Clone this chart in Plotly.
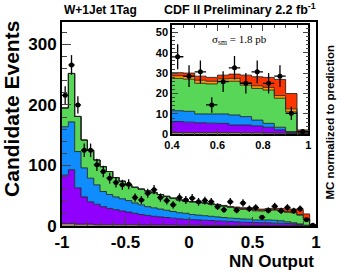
import numpy as np
import plotly.graph_objects as go

# ---- binning (NN output, 40 bins of 0.05) ----
bin_lo, bin_hi, bin_w = -1.0, 1.0, 0.05
edges = np.round(np.arange(bin_lo, bin_hi + 1e-9, bin_w), 3)
centers = np.round((edges[:-1] + edges[1:]) / 2, 4)

# ---- stacked MC levels (top of each layer) ----
lvl_other = [4, 4, 3, 3, 3, 2, 2, 2, 2, 2, 2, 2, 1.5, 1.5, 1.5, 1.5, 1.5, 1.5, 1.2, 1.2,
             1.2, 1.2, 1, 1, 1, 1, 1, 1, 0.9, 0.9, 0.9, 0.9, 0.9, 0.9, 0.8, 0.8, 0.7, 0.6, 0.4, 0.2]
lvl_purple = [84, 93, 63, 48, 40, 36, 32, 29, 27, 25, 23, 21, 19, 17.5, 16, 15, 14, 13, 12, 11,
              10.5, 10, 9.5, 9, 8.5, 8, 7.5, 7, 6.3, 6.0, 5.7, 5.5, 5.4, 4.6, 4.6, 4.2, 3.5, 2.2, 0.9, 0.3]
lvl_blue = [164, 172, 123, 96, 79, 68, 57, 52, 48, 45, 42, 38, 35, 32, 30, 28, 26, 24, 22, 21,
            19, 18, 17, 16, 15, 14, 13, 12.5, 11.6, 11.3, 10, 10, 10, 9.5, 8.7, 7, 5.4, 3.5, 1.4, 0.5]
lvl_green = [195, 252, 181, 142, 125, 109, 98, 90, 80, 74, 68, 64, 61, 58, 55, 52, 49, 46, 43, 41,
             40, 39, 38, 36, 35, 33, 31, 29.5, 27.4, 27, 25, 24.7, 26, 26, 24.1, 22.5, 21.7, 17.7, 11, 0.8]
lvl_orange = [195, 252, 181, 142, 125, 109, 98, 90, 80, 74, 68, 64, 61, 58, 55, 52, 49, 46, 43, 41,
              40, 39, 38, 36.3, 35.3, 33.3, 31.3, 29.8, 28.7, 28.3, 26.5, 26, 27.2, 27.4, 25.3, 23.8, 23, 19, 12.5, 1.0]
lvl_red = [195, 252, 181, 142, 125, 109, 98, 90, 80, 74, 68, 64, 61, 58, 55, 52, 49, 46, 43, 41,
           40, 39, 38, 36.6, 35.8, 34, 32.3, 31.3, 30.2, 30, 28.5, 27.9, 29, 29.5, 29, 28.2, 27.9, 26.9, 20, 2.2]

# ---- observed data ----
data = [216, 266, 200, 125, 125, 101, 90, 79, 72, 68, 69, 47, 43, 54, 60, 47, 42, 35, 47, 43,
        46, 40, 42, 40, 32, 27, 40, 26, 38, 28.5, 30.6, 14.4, 25.8, 32.6, 25, 30.6, 25, 28.5, 10.3, 1.4]

# ---- tick labels ----
main_xticks = [-1, -0.5, 0, 0.5, 1]
main_xlabels = ["-1", "-0.5", "0", "0.5", "1"]
main_yticks = [0, 100, 200, 300]
inset_xticks = [0.4, 0.6, 0.8, 1.0]
inset_xlabels = ["0.4", "0.6", "0.8", "1"]
inset_yticks = [0, 10, 20, 30, 40, 50]

layers = [
    (lvl_other, "#9d8b70"),
    (lvl_purple, "#9000ff"),
    (lvl_blue, "#0f8cff"),
    (lvl_green, "#58d658"),
    (lvl_orange, "#ff9a00"),
    (lvl_red, "#ff3500"),
]

fig = go.Figure()


def add_panel(xa, ya, lo):
    sel = np.where(edges[:-1] >= lo - 1e-9)[0]
    xs = list(edges[sel]) + [edges[sel[-1] + 1]]
    for i, (lvl, col) in enumerate(layers):
        v = [lvl[k] for k in sel]
        fig.add_trace(go.Scatter(
            x=xs, y=v + [v[-1]], mode="lines", line_shape="hv",
            line=dict(color="rgba(30,30,30,0.85)", width=1),
            fill="tozeroy" if i == 0 else "tonexty", fillcolor=col,
            xaxis=xa, yaxis=ya, showlegend=False, hoverinfo="skip"))
    d = [data[k] for k in sel]
    fig.add_trace(go.Scatter(
        x=[centers[k] for k in sel], y=d, mode="markers",
        marker=dict(color="black", size=5),
        error_y=dict(type="data", array=list(np.sqrt(d)), width=0, thickness=1.3, color="black"),
        error_x=dict(type="data", array=[bin_w / 2] * len(d), width=0, thickness=1.3, color="black"),
        xaxis=xa, yaxis=ya, showlegend=False))


add_panel("x", "y", bin_lo)
add_panel("x2", "y2", 0.4)

FONT = "Liberation Sans"

fig.update_layout(
    width=344, height=273, autosize=False,
    margin=dict(l=62, r=28, t=22, b=47),
    paper_bgcolor="white", plot_bgcolor="white",
    xaxis=dict(domain=[0, 1], range=[-1, 1], tickvals=main_xticks, ticktext=main_xlabels,
               ticks="inside", ticklen=9, tickwidth=1, showline=True, linewidth=2, linecolor="black",
               mirror=True, showgrid=False, zeroline=False, automargin=False,
               minor=dict(dtick=0.1, tick0=-1, ticks="inside", ticklen=5),
               tickfont=dict(family=FONT, size=17, weight="bold", color="black")),
    yaxis=dict(domain=[0, 1], range=[0, 337], tickvals=main_yticks,
               ticks="inside", ticklen=9, showline=True, linewidth=2, linecolor="black",
               mirror=True, showgrid=False, zeroline=False, automargin=False,
               minor=dict(dtick=20, tick0=0, ticks="inside", ticklen=5),
               tickfont=dict(family=FONT, size=17, weight="bold", color="black")),
    xaxis2=dict(domain=[0.433, 0.970], anchor="y2", range=[0.4, 1.0], tickvals=inset_xticks,
                ticktext=inset_xlabels, ticks="inside", ticklen=6, showline=True, linewidth=1.5,
                linecolor="black", mirror="ticks", showgrid=False, zeroline=False, automargin=False,
                minor=dict(dtick=0.05, tick0=0.4, ticks="inside", ticklen=3),
                tickfont=dict(family=FONT, size=11, weight="bold", color="black")),
    yaxis2=dict(domain=[0.449, 0.985], anchor="x2", range=[0, 53.5], tickvals=inset_yticks,
                ticks="inside", ticklen=6, showline=True, linewidth=1.5, linecolor="black",
                mirror="ticks", showgrid=False, zeroline=False, automargin=False,
                minor=dict(dtick=2, tick0=0, ticks="inside", ticklen=3),
                tickfont=dict(family=FONT, size=11, weight="bold", color="black")),
)

ann = [
    dict(text="W+1Jet 1Tag", x=0, y=1.059, xanchor="left", yanchor="middle",
         font=dict(family=FONT, size=12, weight="bold")),
    dict(text="CDF II Preliminary 2.2 fb<sup>-1</sup>", x=1.008, y=1.065, xanchor="right",
         yanchor="middle", font=dict(family=FONT, size=12.5, weight="bold")),
    dict(text="MC normalized to prediction", x=1.055, y=0.512, xanchor="center", yanchor="middle",
         textangle=-90, font=dict(family=FONT, size=11.5, weight="bold")),
    dict(text="Candidate Events", x=-0.197, y=1.015, xanchor="center", yanchor="top",
         textangle=-90, font=dict(family=FONT, size=21, weight="bold")),
    dict(text="NN Output", x=1.0, y=-0.172, xanchor="right", yanchor="middle",
         font=dict(family=FONT, size=17, weight="bold")),
    dict(text="σ<sub>sm</sub> = 1.8 pb", x=0.697, y=0.912, xanchor="center", yanchor="middle",
         font=dict(family="Liberation Serif", size=11)),
]
for a in ann:
    a.update(xref="paper", yref="paper", showarrow=False)
    a["font"]["color"] = "black"
fig.update_layout(annotations=ann)

fig.write_html("out.html", config={"displayModeBar": False},
               post_script="document.body.style.margin='0px';document.body.style.overflow='hidden';")
